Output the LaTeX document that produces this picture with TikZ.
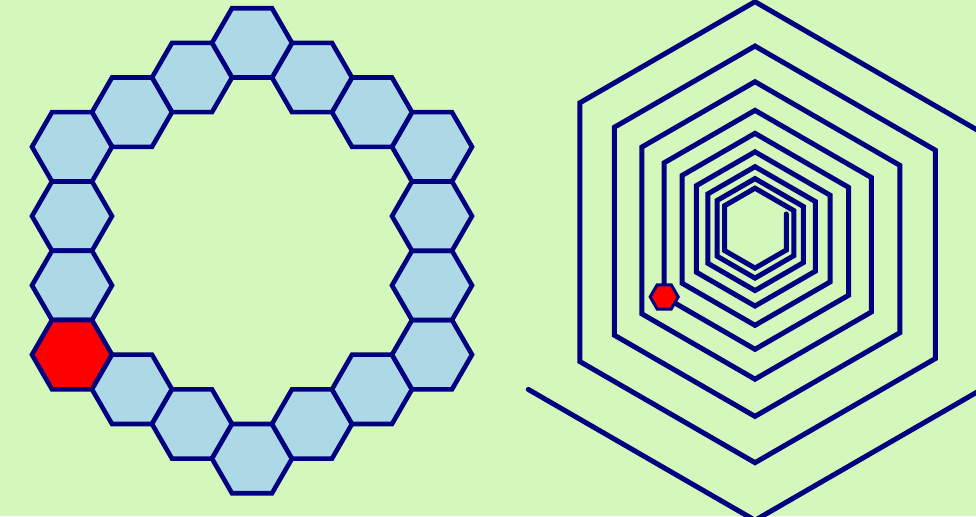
\documentclass[tikz,border=0pt]{standalone}
\usetikzlibrary{calc,shapes.geometric}
\definecolor{bggreen}{HTML}{D4F7BC}
\definecolor{hexblue}{HTML}{ADD8E6}
\definecolor{hexline}{HTML}{000080}
\tikzset{
  ringhex/.style={regular polygon, regular polygon sides=6, minimum size=2cm, inner sep=0pt, draw=hexline, line width=0.115cm},
  markhex/.style={regular polygon, regular polygon sides=6, minimum size=0.7cm, inner sep=0pt, draw=hexline, fill=red, line width=0.075cm},
  spiral/.style={draw=hexline, line width=0.125cm, line cap=round}
}
\begin{document}
\begin{tikzpicture}[x=0.025cm, y=0.025cm]
  % canvas
  \useasboundingbox (0,0) rectangle (976,516);
  \fill[bggreen] (0,0) rectangle (976,516);
  \clip (0,0) rectangle (976,516);

  % ring of cells at distance 3 from the centre
  \coordinate (ringc) at (252,265.25);
  \foreach \i in {0,...,5}
    \foreach \k in {0,1,2}{
      \ifnum\i\k=30 \def\hexfill{red}\else\def\hexfill{hexblue}\fi
      \node[ringhex, fill=\hexfill] (ring-\i-\k) at ($(ringc)+({30+60*\i}:207.85)!\k/3!({90+60*\i}:207.85)$) {};
    }

  % hexagonal spiral, outer end first
  \draw[spiral] ($(755,-4.3)+(150:261.8)$) -- (755,-4.3) -- (979.6,125.4) -- (979.6,384.6)
    \foreach \n [evaluate=\n as \s using 208.3*0.8033^\n,
                 evaluate=\n as \tp using 288.7+225.6*0.8033^\n] in {0,...,8}{
      -- (755,\tp) -- ({755-0.8409*\s},{\tp-0.4855*\s})
      -- ({755-0.8409*\s},{\tp-1.7275*\s}) coordinate (corner-\n)
      -- (755,{\tp-2.213*\s}) -- ({755+0.866*\s},{\tp-1.713*\s})
      -- ({755+0.866*\s},{\tp-0.713*\s})
    };
  \node[markhex] (mark) at (corner-3) {};
\end{tikzpicture}
\end{document}
